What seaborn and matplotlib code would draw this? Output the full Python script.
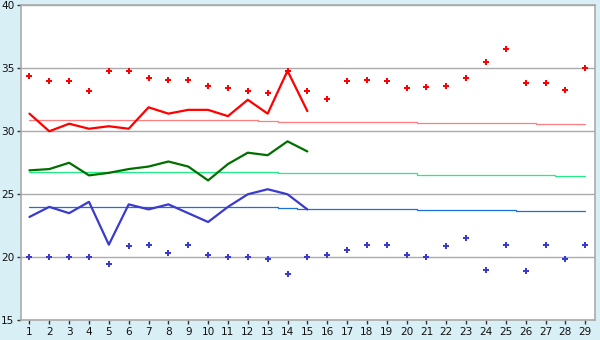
import numpy as np
import pandas as pd
import matplotlib
matplotlib.use("Agg")
import matplotlib.pyplot as plt
import seaborn as sns

days = list(range(1, 30))
line_days = list(range(1, 16))

red_line = [31.4, 30.0, 30.6, 30.2, 30.4, 30.2, 31.9, 31.4, 31.7, 31.7, 31.2, 32.5, 31.4, 34.8, 31.6]
green_line = [26.9, 27.0, 27.5, 26.5, 26.7, 27.0, 27.2, 27.6, 27.2, 26.1, 27.4, 28.3, 28.1, 29.2, 28.4]
blue_line = [23.2, 24.0, 23.5, 24.4, 21.0, 24.2, 23.8, 24.2, 23.5, 22.8, 24.0, 25.0, 25.4, 25.0, 23.8]

red_pts = [34.4, 34.0, 34.0, 33.2, 34.8, 34.8, 34.2, 34.1, 34.1, 33.6, 33.4, 33.2, 33.0, 34.8, 33.2,
           32.6, 34.0, 34.1, 34.0, 33.4, 33.5, 33.6, 34.2, 35.5, 36.5, 33.8, 33.8, 33.3, 35.0]
blue_pts = [20.0, 20.0, 20.0, 20.0, 19.5, 20.9, 21.0, 20.3, 21.0, 20.2, 20.0, 20.0, 19.9, 18.7, 20.0,
            20.2, 20.6, 21.0, 21.0, 20.2, 20.0, 20.9, 21.5, 19.0, 21.0, 18.9, 21.0, 19.9, 21.0]

red_avg = [30.87] * 12 + [30.79] + [30.71] * 7 + [30.63] * 6 + [30.56] * 3
green_avg = [26.75] * 13 + [26.69] * 7 + [26.55] * 7 + [26.45] * 2
blue_avg = [23.97] * 13 + [23.9] + [23.8] * 6 + [23.73] * 5 + [23.65] * 4

y_ticks = [15, 20, 25, 30, 35, 40]

sns.set_theme(style="white")
plt.rcParams['font.family'] = ['DejaVu Sans']

fig = plt.figure(figsize=(6, 3.4), dpi=100)
fig.patch.set_facecolor("#d8eff6")
ax = fig.add_axes([0.0345, 0.058, 0.9575, 0.9265])
ax.set_facecolor("white")

for yt in y_ticks:
    ax.axhline(yt, color="#aaaaaa", lw=1.0, zorder=0)

avg_df = pd.DataFrame({"day": days, "red": red_avg, "green": green_avg, "blue": blue_avg})
sns.lineplot(data=avg_df, x="day", y="red", ax=ax, color="#ff7f7f", lw=0.9, drawstyle="steps-mid")
sns.lineplot(data=avg_df, x="day", y="green", ax=ax, color="#22ee88", lw=0.9, drawstyle="steps-mid")
sns.lineplot(data=avg_df, x="day", y="blue", ax=ax, color="#1a6fe0", lw=0.9, drawstyle="steps-mid")

line_df = pd.DataFrame({"day": line_days, "red": red_line, "green": green_line, "blue": blue_line})
sns.lineplot(data=line_df, x="day", y="red", ax=ax, color="#ff0000", lw=1.6)
sns.lineplot(data=line_df, x="day", y="green", ax=ax, color="#006f00", lw=1.6)
sns.lineplot(data=line_df, x="day", y="blue", ax=ax, color="#3a3acf", lw=1.6)

pts_df = pd.DataFrame({"day": days, "red": red_pts, "blue": blue_pts})
sns.scatterplot(data=pts_df, x="day", y="red", ax=ax, color="#ff0000", marker="P", s=16, linewidth=0, zorder=5)
sns.scatterplot(data=pts_df, x="day", y="blue", ax=ax, color="#3a3acf", marker="P", s=16, linewidth=0, zorder=5)

ax.set_xlim(0.56, 29.5)
ax.set_ylim(15, 40)
ax.set_xticks(days)
ax.set_xticklabels([str(d) for d in days])
ax.set_yticks(y_ticks)
ax.set_yticklabels([str(v) for v in y_ticks])
ax.set_xlabel("")
ax.set_ylabel("")

for side in ["left", "right", "top", "bottom"]:
    ax.spines[side].set_visible(True)
    ax.spines[side].set_color("#aaaaaa")
    ax.spines[side].set_linewidth(1.2)

ax.tick_params(axis="both", which="major", direction="out", length=3, width=1,
               color="#333333", labelsize=7.6, labelcolor="#111111", pad=1.5,
               bottom=True, left=True)

fig.savefig("out.png", dpi=100, facecolor=fig.get_facecolor())
